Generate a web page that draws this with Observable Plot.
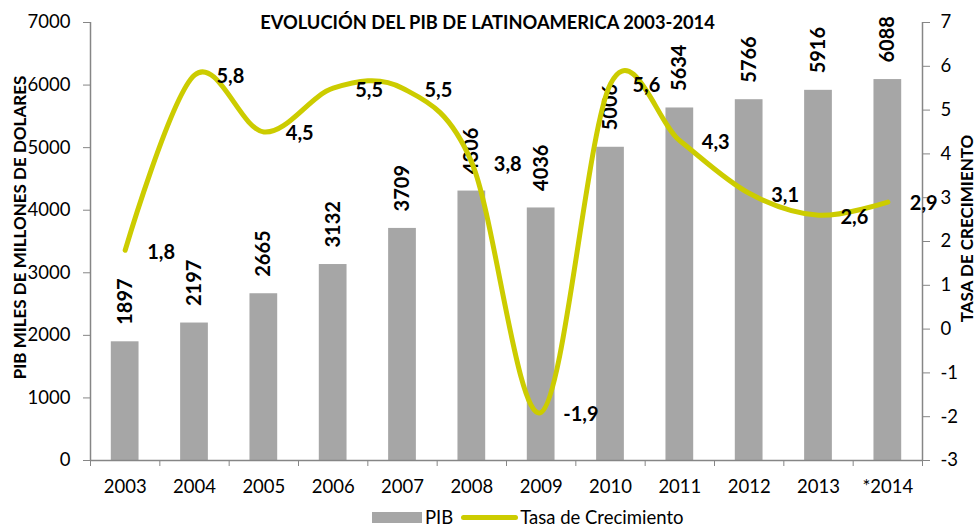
<!DOCTYPE html>
<html><head><meta charset="utf-8">
<script src="https://cdn.jsdelivr.net/npm/d3@7"></script>
<script src="https://cdn.jsdelivr.net/npm/@observablehq/plot@0.6"></script>
<style>
body{margin:0;background:#fff;font-family:Lato,sans-serif;}
#wrap{position:relative;width:978px;height:527px;overflow:hidden;}
#legend{position:absolute;left:372px;top:508px;height:18px;display:flex;align-items:center;font:18.5px/18px Lato,sans-serif;color:#000;white-space:nowrap;}
#legend .sw1{width:50px;height:11px;background:#a6a6a6;margin-right:3px;}
#legend .sw2{width:57px;height:5px;background:#cccc00;border-radius:3px;margin:0 2px 0 8px;}
</style></head><body>
<div id="wrap"><div id="chart"></div>
<div id="legend"><span class="sw1"></span><span id="lg1"></span><span class="sw2"></span><span id="lg2"></span></div></div>
<script>
const years = ["2003","2004","2005","2006","2007","2008","2009","2010","2011","2012","2013","*2014"];
const pib = [1897,2197,2665,3132,3709,4306,4036,5006,5634,5766,5916,6088];
const tasa = [1.8,5.8,4.5,5.5,5.5,3.8,-1.9,5.6,4.3,3.1,2.6,2.9];
const leftTicks = [0,1000,2000,3000,4000,5000,6000,7000];
const rightTicks = [-3,-2,-1,0,1,2,3,4,5,6,7];
const title = "EVOLUCIÓN DEL PIB DE LATINOAMERICA 2003-2014";
const yLabelLeft = "PIB MILES DE MILLONES DE DOLARES";
const yLabelRight = "TASA DE CRECIMIENTO";
const legendLabels = ["PIB","Tasa de Crecimiento"];

document.getElementById("lg1").textContent = legendLabels[0];
document.getElementById("lg2").textContent = legendLabels[1];

const toY = r => (r + 3) * 700;
const fromY = v => Math.round(v / 700 - 3);
const data = years.map((year, i) => ({i, year, pib: pib[i], tasa: tasa[i]}));
const axisGray = "#868686";

const chart = Plot.plot({
  width: 978, height: 500,
  marginLeft: 90, marginRight: 56, marginTop: 22, marginBottom: 40,
  style: {fontFamily: "Lato, sans-serif", fontSize: "18.5px", color: "#000", background: "#fff"},
  x: {type: "linear", domain: [0, 12]},
  y: {domain: [0, 7000]},
  marks: [
    Plot.rectY(data, {x1: "i", x2: d => d.i + 1, y: "pib", fill: "#a6a6a6", insetLeft: 20.8, insetRight: 20.8}),
    Plot.ruleX([0, 12], {stroke: axisGray, strokeWidth: 1.5}),
    Plot.ruleY([0], {stroke: axisGray, strokeWidth: 1.5}),
    Plot.axisY({ticks: leftTicks, tickSize: 7, tickPadding: 13, tickFormat: d => String(d), label: null, stroke: axisGray, fill: "#000"}),
    Plot.axisY({anchor: "right", ticks: rightTicks.map(toY), tickSize: 7, tickPadding: 11, tickFormat: v => String(fromY(v)), label: null, stroke: axisGray, fill: "#000"}),
    Plot.axisX({ticks: d3.range(13), tickSize: 6, tickFormat: () => "", label: null, stroke: axisGray}),
    Plot.axisX({ticks: d3.range(12).map(i => i + 0.5), tickSize: 0, tickPadding: 19, tickFormat: v => years[Math.floor(v)], label: null, fill: "#000"}),
    Plot.text(data, {x: d => d.i + 0.5, y: "pib", text: d => String(d.pib), rotate: -90, textAnchor: "start", dy: -17, fontWeight: "bold", fontSize: 20, fill: "#000"}),
    Plot.line(data, {x: d => d.i + 0.5, y: d => toY(d.tasa), stroke: "#cccc00", strokeWidth: 5, curve: "cardinal", tension: 0, strokeLinecap: "round"}),
    Plot.text(data, {x: d => d.i + 0.5, y: d => toY(d.tasa), text: d => d.tasa.toFixed(1).replace(".", ","), textAnchor: "start", dx: 22, dy: 2, fontWeight: "bold", fontSize: 20, fill: "#000"}),
    Plot.text([title], {frameAnchor: "top", textAnchor: "middle", lineAnchor: "middle", dx: -19, dy: 1, fontWeight: "bold", fontSize: 18.3, fill: "#000"}),
    Plot.text([yLabelLeft], {frameAnchor: "left", textAnchor: "middle", lineAnchor: "middle", rotate: -90, dx: -70, dy: -14, fontWeight: "bold", fontSize: 17, fill: "#000"}),
    Plot.text([yLabelRight], {frameAnchor: "right", textAnchor: "middle", lineAnchor: "middle", rotate: -90, dx: 45, dy: -13, fontWeight: "bold", fontSize: 17, fill: "#000"})
  ]
});
document.getElementById("chart").appendChild(chart);
</script>
</body></html>
